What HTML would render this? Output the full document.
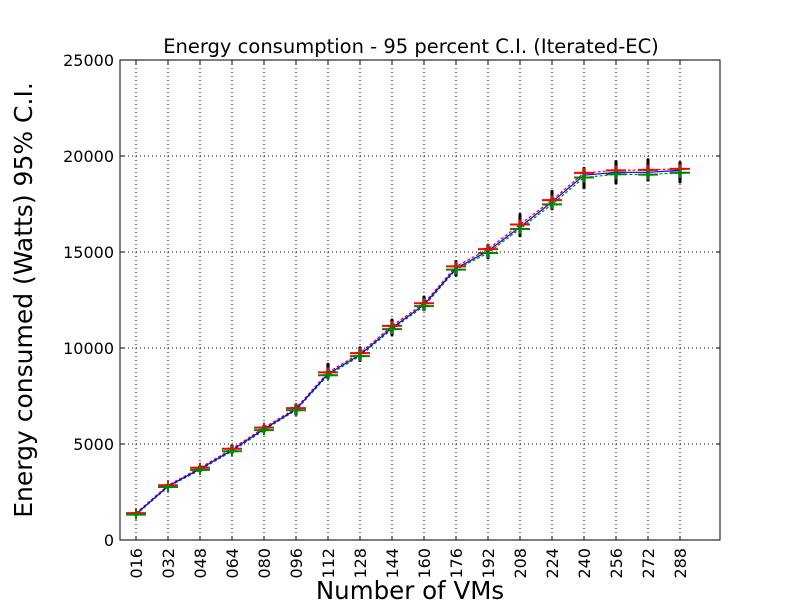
<!DOCTYPE html>
<html><head><meta charset="utf-8"><style>
body{margin:0;background:#fff;font-family:"DejaVu Sans","Liberation Sans",sans-serif}
svg text{font-family:"DejaVu Sans","Liberation Sans",sans-serif}
</style></head><body>
<svg id="chart" width="800" height="600" xmlns="http://www.w3.org/2000/svg">
<rect width="800" height="600" fill="#fff"/>
<text x="411" y="53" font-size="19.5" text-anchor="middle">Energy consumption - 95 percent C.I. (Iterated-EC)</text>
<text transform="translate(32,300) rotate(-90)" font-size="25" text-anchor="middle">Energy consumed (Watts) 95% C.I.</text>
<text x="410" y="599" font-size="24.5" text-anchor="middle">Number of VMs</text>
<g id="grid"></g><g id="marks"></g><g id="axes"></g>
<rect x="120" y="60" width="600" height="480" fill="none" stroke="#000" stroke-width="1"/>
</svg>
<script>
const categories=["016","032","048","064","080","096","112","128","144","160","176","192","208","224","240","256","272","288"];
const means=[1350,2800,3700,4680,5780,6800,8650,9650,11050,12250,14150,15050,16300,17600,19000,19150,19150,19250];
const upper=[1400,2850,3760,4750,5850,6870,8730,9730,11150,12330,14250,15150,16430,17700,19120,19250,19280,19330];
const lower=[1320,2760,3650,4620,5720,6760,8580,9580,10980,12180,14080,14950,16200,17480,18880,19050,19030,19130];
const outLo=[1320,2750,3600,4550,5650,6550,8450,9350,10700,12000,13800,14700,15850,17250,18350,18600,18750,18650];
const outHi=[1400,2900,3850,4950,5950,7050,9150,10000,11450,12650,14500,15350,16950,18150,19350,19700,19800,19650];
const yTicks=[0,5000,10000,15000,20000,25000];
const X0=120,X1=720,Y0=540,Y1=60,YMAX=25000;
const x=i=>X0+16+32*i;
const y=v=>Y0-(v/YMAX)*(Y0-Y1);
const NS="http://www.w3.org/2000/svg";
function mk(tag,attrs,parent){const e=document.createElementNS(NS,tag);for(const k in attrs)e.setAttribute(k,attrs[k]);parent.appendChild(e);return e;}
const grid=document.getElementById('grid'),marks=document.getElementById('marks'),axes=document.getElementById('axes');
yTicks.forEach(t=>{
 const g=mk('line',{x1:X0,x2:X1,y1:y(t),y2:y(t),stroke:'#000','stroke-dasharray':'1,3','stroke-width':1},grid);
 
 
 mk('line',{x1:X0,x2:X0+4,y1:y(t),y2:y(t),stroke:'#000'},axes);
 mk('line',{x1:X1-4,x2:X1,y1:y(t),y2:y(t),stroke:'#000'},axes);
 const tx=mk('text',{x:X0-6,y:y(t)+6,'font-size':16,'text-anchor':'end'},axes);tx.textContent=t;
 
 
});
categories.forEach((c,i)=>{
 const g=mk('line',{x1:x(i),x2:x(i),y1:Y1,y2:Y0,stroke:'#000','stroke-dasharray':'1,3','stroke-width':1},grid);
 
 
 mk('line',{x1:x(i),x2:x(i),y1:Y0,y2:Y0-4,stroke:'#000'},axes);
 mk('line',{x1:x(i),x2:x(i),y1:Y1,y2:Y1+4,stroke:'#000'},axes);
 const tx=mk('text',{transform:`translate(${x(i)+6},${Y0+8}) rotate(-90)`,'font-size':16,'text-anchor':'end'},axes);tx.textContent=c;
 
 
});
function poly(arr,color,dash,name){
 const p=mk('polyline',{points:arr.map((v,i)=>x(i)+','+y(v)).join(' '),fill:'none',stroke:color,'stroke-width':1.2,'stroke-dasharray':dash||''},marks);
 
 
}
categories.forEach((c,i)=>{
 for(let v=outLo[i];v<=outHi[i];v+=Math.max(60,(outHi[i]-outLo[i])/10)){
  const d=mk('circle',{cx:x(i),cy:y(v),r:1.6,fill:'#000'},marks);
  
  
 }
 const cu=mk('line',{x1:x(i)-10,x2:x(i)+10,y1:y(upper[i]),y2:y(upper[i]),stroke:'#f00','stroke-width':2},marks);
 
 
 const cl=mk('line',{x1:x(i)-10,x2:x(i)+10,y1:y(lower[i]),y2:y(lower[i]),stroke:'#080','stroke-width':2},marks);
 
 
});
poly(upper,'#f00','3,2','upper-ci-line');
poly(lower,'#080','3,2','lower-ci-line');
poly(means,'#00f','','mean-line');
categories.forEach((c,i)=>{
 [[upper[i],'#f00','upper-marker'],[lower[i],'#080','lower-marker']].forEach(([v,col,n])=>{
  const g=mk('path',{d:`M${x(i)-5},${y(v)}h10M${x(i)},${y(v)-5}v10`,stroke:col,'stroke-width':2},marks);
  
  
 });
});
</script>
</body></html>
